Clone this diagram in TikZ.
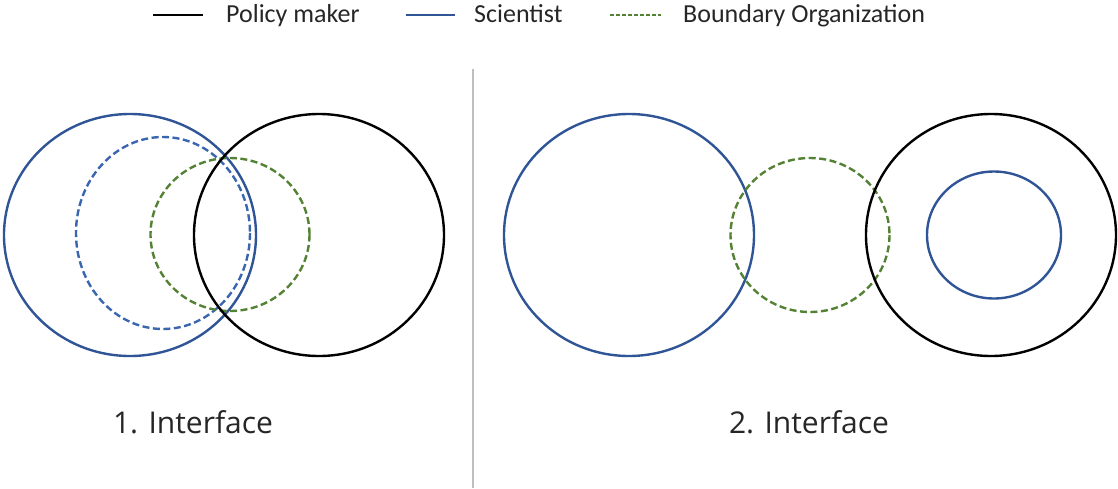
\documentclass[tikz,border=0pt]{standalone}
\usepackage{fontspec}
\setmainfont{Carlito}
\newfontfamily\labelfont{Open Sans}
\definecolor{sciblue}{HTML}{2F5597}
\definecolor{scidashblue}{HTML}{3A66B0}
\definecolor{bogreen}{HTML}{548235}
\definecolor{divgray}{HTML}{BFBFBF}
\definecolor{txtgray}{HTML}{262626}

\begin{document}
\begin{tikzpicture}[x=1pt, y=-1pt, every node/.style={font=\fontsize{26}{30}\selectfont, text=txtgray, inner sep=0pt}]
  \tikzstyle{policy}=[draw=black,line width=2.4pt]
  \tikzstyle{scientist}=[draw=sciblue,line width=2.4pt]
  \tikzstyle{scidashed}=[draw=scidashblue,line width=2.4pt,dash pattern=on 7pt off 3.5pt]
  \tikzstyle{boundary}=[draw=bogreen,line width=2.4pt,dash pattern=on 7pt off 3.5pt]
  \tikzstyle{iface}=[anchor=base,font=\labelfont\fontsize{30}{36}\selectfont]
  \useasboundingbox (0,0) rectangle (1118,488);
  % legend
  \draw[black,line width=1.5pt] (153,15) -- (203,15);
  \node[anchor=base west] (polkey) at (226,22) {Policy maker};
  \draw[sciblue,line width=1.5pt] (406,15) -- (455,15);
  \node[anchor=base west] (scikey) at (474,22) {Scientist};
  \draw[bogreen,line width=1.5pt,dash pattern=on 3.5pt off 2.5pt] (610,15) -- (661,15);
  \node[anchor=base west] (bokey) at (683,22) {Boundary Organization};
  % 1. interface
  \draw[scientist] (130,235) ellipse [x radius=126, y radius=121];
  \draw[scidashed] (163,233) ellipse [x radius=87, y radius=96];
  \draw[boundary] (230,234.5) ellipse [x radius=79.5, y radius=76.5];
  \draw[policy] (319,235) ellipse [x radius=125, y radius=121];
  \node[iface] (ifaceone) at (193,433) {1. Interface};
  % divider
  \draw[divgray,line width=1.2pt] (473,69) -- (473,488);
  % 2. interface
  \draw[scientist] (629,235) ellipse [x radius=125, y radius=121];
  \draw[boundary] (810,235) ellipse [x radius=79.5, y radius=77];
  \draw[policy] (991,235) ellipse [x radius=125, y radius=121];
  \draw[scientist] (994,235) ellipse [x radius=67, y radius=63.5];
  \node[iface] (ifacetwo) at (809,433) {2. Interface};
\end{tikzpicture}
\end{document}
